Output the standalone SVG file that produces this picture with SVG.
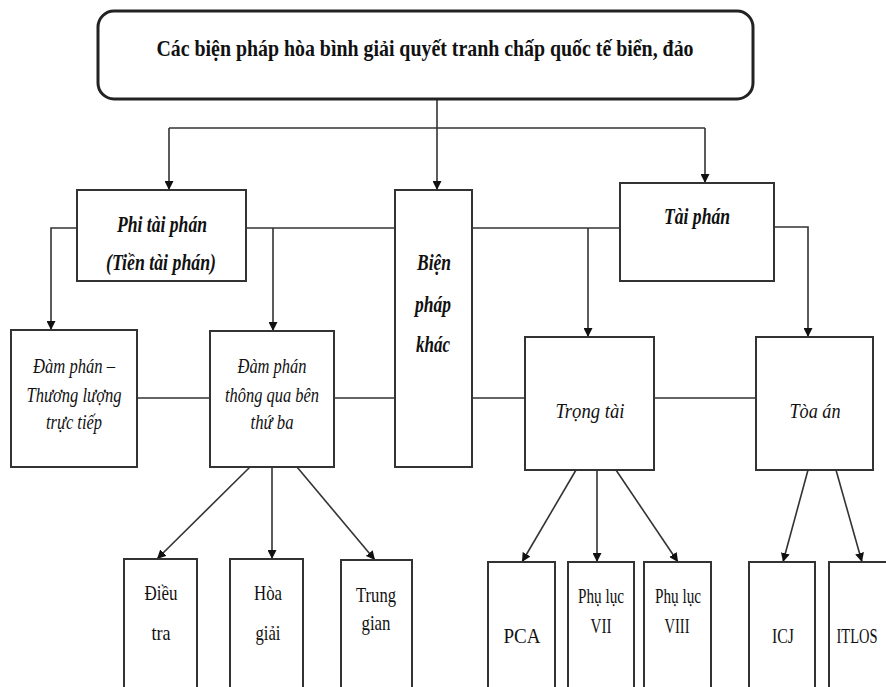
<svg xmlns="http://www.w3.org/2000/svg" width="886" height="687" viewBox="0 0 886 687">
<style>
.box{fill:#fff;stroke:#333;stroke-width:2}
.top{fill:#fff;stroke:#222;stroke-width:3}
.ln{fill:none;stroke:#333;stroke-width:1.6}
.t{font-family:"Liberation Serif","Times New Roman","DejaVu Serif",serif;fill:#111;text-anchor:middle}
.bi{font-weight:bold;font-style:italic;font-size:23px}
.it{font-style:italic;font-size:22px}
.rg{font-size:22px}
.sm{font-size:20px}
.tt{font-weight:bold;font-size:24px}
</style>
<defs>
<marker id="ah" viewBox="0 0 10 10" refX="10" refY="5" markerWidth="9" markerHeight="9" markerUnits="userSpaceOnUse" orient="auto">
<path d="M0,0 L10,5 L0,10 z" fill="#111"/>
</marker>
</defs>
<rect width="886" height="687" fill="#fff"/>
<g id="connectors">
<path class="ln" d="M437,99 V190" marker-end="url(#ah)"/>
<path class="ln" d="M169,128 H705"/>
<path class="ln" d="M169,128 V190" marker-end="url(#ah)"/>
<path class="ln" d="M705,128 V183" marker-end="url(#ah)"/>
<path class="ln" d="M77,228 H51 V330" marker-end="url(#ah)"/>
<path class="ln" d="M246,228 H395"/>
<path class="ln" d="M273,228 V331" marker-end="url(#ah)"/>
<path class="ln" d="M472,228 H620"/>
<path class="ln" d="M588,228 V337" marker-end="url(#ah)"/>
<path class="ln" d="M774,227 H808 V337" marker-end="url(#ah)"/>
<path class="ln" d="M137,398 H210 M334,398 H395 M472,398 H525 M654,398 H756"/>
<path class="ln" d="M250,467 L157,559" marker-end="url(#ah)"/>
<path class="ln" d="M272,467 V559" marker-end="url(#ah)"/>
<path class="ln" d="M297,467 L375,560" marker-end="url(#ah)"/>
<path class="ln" d="M576,470 L522,562" marker-end="url(#ah)"/>
<path class="ln" d="M597,470 V562" marker-end="url(#ah)"/>
<path class="ln" d="M616,470 L678,562" marker-end="url(#ah)"/>
<path class="ln" d="M808,470 L783,562" marker-end="url(#ah)"/>
<path class="ln" d="M836,470 L862,562" marker-end="url(#ah)"/>
</g>
<g id="root">
<rect class="top" x="98" y="11" width="655" height="88" rx="16"/>
<text class="t tt" x="425" y="56" textLength="537" lengthAdjust="spacingAndGlyphs">Các biện pháp hòa bình giải quyết tranh chấp quốc tế biển, đảo</text>
</g>
<g id="phitaiphan">
<rect class="box" x="77" y="190" width="169" height="91"/>
<text class="t bi" x="162" y="232" textLength="90" lengthAdjust="spacingAndGlyphs">Phi tài phán</text>
<text class="t bi" x="161" y="270" textLength="110" lengthAdjust="spacingAndGlyphs">(Tiền tài phán)</text>
</g>
<g id="bienphapkhac">
<rect class="box" x="395" y="190" width="77" height="277"/>
<text class="t bi" x="434" y="270" textLength="34" lengthAdjust="spacingAndGlyphs">Biện</text>
<text class="t bi" x="433" y="312" textLength="36" lengthAdjust="spacingAndGlyphs">pháp</text>
<text class="t bi" x="433" y="352" textLength="34" lengthAdjust="spacingAndGlyphs">khác</text>
</g>
<g id="taiphan">
<rect class="box" x="620" y="183" width="154" height="98"/>
<text class="t bi" x="697" y="224" textLength="66" lengthAdjust="spacingAndGlyphs">Tài phán</text>
</g>
<g id="damphan">
<rect class="box" x="11" y="330" width="126" height="137"/>
<text class="t it" x="74" y="373" textLength="82" lengthAdjust="spacingAndGlyphs">Đàm phán –</text>
<text class="t it" x="74" y="402" textLength="95" lengthAdjust="spacingAndGlyphs">Thương lượng</text>
<text class="t it" x="74" y="429" textLength="56" lengthAdjust="spacingAndGlyphs">trực tiếp</text>
</g>
<g id="damphanthirdparty">
<rect class="box" x="210" y="331" width="124" height="136"/>
<text class="t it" x="272" y="373" textLength="69" lengthAdjust="spacingAndGlyphs">Đàm phán</text>
<text class="t it" x="272" y="402" textLength="94" lengthAdjust="spacingAndGlyphs">thông qua bên</text>
<text class="t it" x="272" y="429" textLength="43" lengthAdjust="spacingAndGlyphs">thứ ba</text>
</g>
<g id="trongtai">
<rect class="box" x="525" y="337" width="129" height="133"/>
<text class="t it" x="590" y="418" textLength="69" lengthAdjust="spacingAndGlyphs">Trọng tài</text>
</g>
<g id="toaan">
<rect class="box" x="756" y="337" width="117" height="133"/>
<text class="t it" x="815" y="418" textLength="51" lengthAdjust="spacingAndGlyphs">Tòa án</text>
</g>
<g id="dieutra">
<rect class="box" x="124" y="559" width="73" height="140"/>
<text class="t rg" x="161" y="600" textLength="33" lengthAdjust="spacingAndGlyphs">Điều</text>
<text class="t rg" x="161" y="640" textLength="19" lengthAdjust="spacingAndGlyphs">tra</text>
</g>
<g id="hoagiai">
<rect class="box" x="230" y="559" width="73" height="140"/>
<text class="t rg" x="268" y="600" textLength="28" lengthAdjust="spacingAndGlyphs">Hòa</text>
<text class="t rg" x="268" y="640" textLength="25" lengthAdjust="spacingAndGlyphs">giải</text>
</g>
<g id="trunggian">
<rect class="box" x="341" y="560" width="71" height="140"/>
<text class="t rg" x="376" y="602" textLength="40" lengthAdjust="spacingAndGlyphs">Trung</text>
<text class="t rg" x="376" y="630" textLength="29" lengthAdjust="spacingAndGlyphs">gian</text>
</g>
<g id="pca">
<rect class="box" x="488" y="562" width="67" height="140"/>
<text class="t rg" x="522" y="643" textLength="37" lengthAdjust="spacingAndGlyphs">PCA</text>
</g>
<g id="phuluc7">
<rect class="box" x="568" y="562" width="66" height="140"/>
<text class="t sm" x="601" y="603" textLength="46" lengthAdjust="spacingAndGlyphs">Phụ lục</text>
<text class="t sm" x="601" y="633" textLength="21" lengthAdjust="spacingAndGlyphs">VII</text>
</g>
<g id="phuluc8">
<rect class="box" x="644" y="562" width="67" height="140"/>
<text class="t sm" x="678" y="603" textLength="46" lengthAdjust="spacingAndGlyphs">Phụ lục</text>
<text class="t sm" x="677" y="633" textLength="25" lengthAdjust="spacingAndGlyphs">VIII</text>
</g>
<g id="icj">
<rect class="box" x="749" y="562" width="66" height="140"/>
<text class="t rg" x="783" y="643" textLength="22" lengthAdjust="spacingAndGlyphs">ICJ</text>
</g>
<g id="itlos">
<rect class="box" x="829" y="562" width="70" height="140"/>
<text class="t rg" x="857" y="643" textLength="41" lengthAdjust="spacingAndGlyphs">ITLOS</text>
</g>
</svg>
